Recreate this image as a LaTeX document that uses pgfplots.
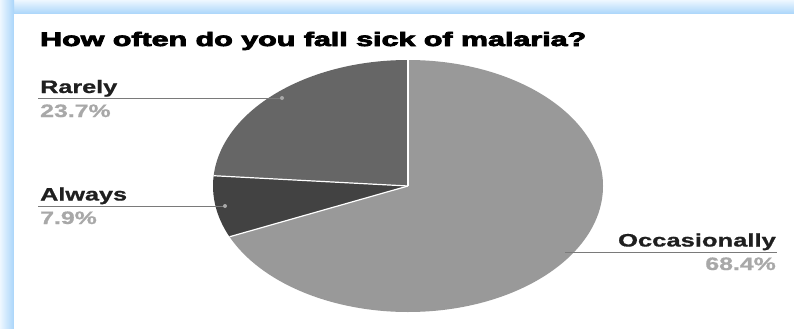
\documentclass[border=0pt]{standalone}
\usepackage{pgfplots}
\pgfplotsset{compat=1.18}
\usepackage{pgfplotstable}
\usepackage{graphicx}
\usepackage{fontspec}
\setmainfont{Liberation Sans}
\newfontfamily\titlefont{Liberation Sans Bold}[FakeBold=3.5]
\newfontfamily\labelfont{Liberation Sans Bold}[FakeBold=0.8]
\definecolor{sliceOcc}{HTML}{999999}
\definecolor{sliceAlw}{HTML}{424242}
\definecolor{sliceRar}{HTML}{666666}
\definecolor{bandBlue}{HTML}{A9D5FA}
\definecolor{bandLight}{HTML}{EEF7FF}
\definecolor{pctGray}{HTML}{A8A8A8}
\definecolor{leader}{HTML}{7A7A7A}

\pgfplotstableread{
label value
Occasionally 68.4
Always 7.9
Rarely 23.7
}\piedata

\begin{document}
\begin{tikzpicture}
\begin{axis}[
  width=794bp, height=329bp, scale only axis,
  xmin=0, xmax=794, ymin=0, ymax=329, y dir=reverse,
  hide axis, clip=false,
]
% background and frame
\fill[white] (axis cs:0,0) rectangle (axis cs:794,329);
\shade[top color=bandLight, bottom color=bandBlue] (axis cs:0,0) rectangle (axis cs:794,14);
\shade[left color=bandLight, right color=bandBlue] (axis cs:0,0) rectangle (axis cs:14,329);
\fill[white] (axis cs:14,14) rectangle (axis cs:794,329);

% pie slices from data
\pgfplotstablegetelem{0}{value}\of\piedata \pgfmathsetmacro{\vO}{\pgfplotsretval}
\pgfplotstablegetelem{1}{value}\of\piedata \pgfmathsetmacro{\vA}{\pgfplotsretval}
\pgfplotstablegetelem{2}{value}\of\piedata \pgfmathsetmacro{\vR}{\pgfplotsretval}
\pgfmathsetmacro{\aS}{90}
\pgfmathsetmacro{\aO}{90-3.6*\vO}
\pgfmathsetmacro{\aA}{\aO-3.6*\vA}
\pgfmathsetmacro{\aR}{\aA-3.6*\vR}
\fill[sliceOcc] (axis cs:408,186) -- ++(\aS:195bp and 126bp) arc[start angle=\aS, end angle=\aO, x radius=195bp, y radius=126bp] -- cycle;
\fill[sliceAlw] (axis cs:408,186) -- ++(\aO:195bp and 126bp) arc[start angle=\aO, end angle=\aA, x radius=195bp, y radius=126bp] -- cycle;
\fill[sliceRar] (axis cs:408,186) -- ++(\aA:195bp and 126bp) arc[start angle=\aA, end angle=\aR, x radius=195bp, y radius=126bp] -- cycle;
\draw[white, line width=1.2bp] (axis cs:408,186) -- ++(\aS:195bp and 126bp);
\draw[white, line width=1.2bp] (axis cs:408,186) -- ++(\aO:195bp and 126bp);
\draw[white, line width=1.2bp] (axis cs:408,186) -- ++(\aA:195bp and 126bp);

% title
\node[anchor=base west, inner sep=0pt] at (axis cs:40,46)
  {\fontsize{19.5bp}{20bp}\titlefont\scalebox{1.56}[1]{How often do you fall sick of malaria?}};

% leaders
\draw[leader, line width=1bp] (axis cs:38,98) -- (axis cs:282,98);
\fill[pctGray] (axis cs:282,98) circle[radius=2bp];
\draw[leader, line width=1bp] (axis cs:38,206) -- (axis cs:225,206);
\fill[pctGray] (axis cs:225,206) circle[radius=2bp];
\draw[leader, line width=1bp] (axis cs:565,252) -- (axis cs:777,252);

% labels
\node[anchor=base west, inner sep=0pt] at (axis cs:40,93)
  {\fontsize{18bp}{20bp}\labelfont\color{black!88}\scalebox{1.4}[1]{Rarely}};
\node[anchor=base west, inner sep=0pt] at (axis cs:40,117)
  {\fontsize{18bp}{20bp}\labelfont\color{pctGray}\scalebox{1.38}[1]{23.7\%}};
\node[anchor=base west, inner sep=0pt] at (axis cs:40,200.5)
  {\fontsize{18bp}{20bp}\labelfont\color{black!88}\scalebox{1.4}[1]{Always}};
\node[anchor=base west, inner sep=0pt] at (axis cs:40,224)
  {\fontsize{18bp}{20bp}\labelfont\color{pctGray}\scalebox{1.38}[1]{7.9\%}};
\node[anchor=base east, inner sep=0pt] at (axis cs:776,246.5)
  {\fontsize{18bp}{20bp}\labelfont\color{black!88}\scalebox{1.42}[1]{Occasionally}};
\node[anchor=base east, inner sep=0pt] at (axis cs:776,270)
  {\fontsize{18bp}{20bp}\labelfont\color{pctGray}\scalebox{1.38}[1]{68.4\%}};
\end{axis}
\end{tikzpicture}
\end{document}
